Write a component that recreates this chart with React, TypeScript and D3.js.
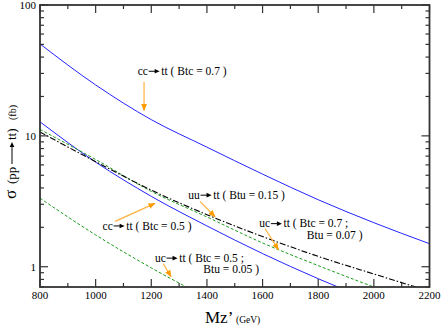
import React from 'react';
import * as d3 from 'd3';

// Z' mass points (GeV) and cross sections (fb)
const massPoints = [800, 1000, 1200, 1400, 1600, 1800, 2000, 2200];
const ccBtc07 = [50.4, 24.5, 13.3, 8.2, 5.1, 3.25, 2.17, 1.5];
const ccBtc05 = [12.8, 6.3, 3.45, 2.05, 1.26, 0.81, 0.54, null];
const ucBtc07Btu007 = [11.2, 6.6, 3.77, 2.4, 1.52, 1.02, 0.7, null];
const uuBtu015 = [10.7, 6.35, 3.85, 2.5, 1.7, 1.2, 0.88, 0.65];
const ucBtc05Btu005 = [3.34, 1.75, 0.98, 0.58, null, null, null, null];

const xMajorTicks = [800, 1000, 1200, 1400, 1600, 1800, 2000, 2200];
const yLabelTicks = [1, 10, 100];

// annotation anchors in data units: label, arrow tail, arrow tip
const notes = [
  { pre: 'cc', rest: 'tt ( Btc = 0.7 )', at: [1151, 29.2], from: [1174, 25.8], to: [1174, 15.6] },
  { pre: 'uu', rest: 'tt ( Btu = 0.15 )', at: [1333, 3.3], from: [1375, 3.16], to: [1429, 2.41] },
  { pre: 'uc', rest: 'tt ( Btc = 0.7 ;', at: [1588, 2.0], from: [1609, 1.95], to: [1657, 1.35], line2: 'Btu = 0.07 )', at2: [1759, 1.64] },
  { pre: 'cc', rest: 'tt ( Btc = 0.5 )', at: [1025, 1.92], from: [1070, 2.22], to: [1213, 3.05] },
  { pre: 'uc', rest: 'tt ( Btc = 0.5 ;', at: [1213, 1.09], from: [1243, 1.054], to: [1271, 0.84], line2: 'Btu = 0.05 )', at2: [1387, 0.9] },
];

const W = 442;
const H = 327;
const margin = { top: 5, right: 12.5, bottom: 40, left: 40 };
const font = "'Liberation Serif', 'DejaVu Serif', serif";
const orange = '#ffb13d';

// Times advance widths (em)
const glyphW: Record<string, number> = { c: 0.444, u: 0.5 };
const prefixWidth = (s: string, size: number) =>
  s.split('').reduce((a, ch) => a + (glyphW[ch] || 0.5) * size, 0);

const SmallArrow = ({ x, y, len }: { x: number; y: number; len: number }) => (
  <g>
    <line x1={x} y1={y} x2={x + len - 4} y2={y} stroke="#000" strokeWidth={1} />
    <path d={`M${x + len},${y} L${x + len - 5},${y - 2.3} L${x + len - 5},${y + 2.3} Z`} fill="#000" />
  </g>
);

export default function App() {
  const iw = W - margin.left - margin.right;
  const ih = H - margin.top - margin.bottom;
  const x = d3.scaleLinear().domain([800, 2200]).range([margin.left, margin.left + iw]);
  const y = d3.scaleLog().domain([0.7, 100]).range([margin.top + ih, margin.top]);
  const x0 = margin.left;
  const x1 = margin.left + iw;
  const y0 = margin.top + ih;
  const y1 = margin.top;

  const line = d3
    .line<[number, number | null]>()
    .defined((d) => d[1] != null)
    .x((d) => x(d[0]))
    .y((d) => y(d[1] as number))
    .curve(d3.curveMonotoneX);
  const pts = (vals: (number | null)[]) => massPoints.map((m, i) => [m, vals[i]] as [number, number | null]);

  const series = [
    { vals: ccBtc07, color: '#2424ff', dash: undefined, w: 1 },
    { vals: ccBtc05, color: '#2424ff', dash: undefined, w: 1 },
    { vals: ucBtc07Btu007, color: '#1a9a1a', dash: '3,2', w: 1 },
    { vals: uuBtu015, color: '#000', dash: '6,2,1.5,2', w: 1.1 },
    { vals: ucBtc05Btu005, color: '#1a9a1a', dash: '3,2', w: 1 },
  ];

  const xMinor = d3.range(800, 2201, 100).filter((v) => !xMajorTicks.includes(v));
  const yMinor: number[] = [];
  [0.1, 1, 10].forEach((dec) => {
    for (let k = 2; k <= 9; k++) {
      const v = k * dec;
      if (v >= 0.7 && v <= 100) yMinor.push(v);
    }
  });

  const tickColor = '#333';
  const majorLen = 8;
  const minorLen = 4;
  const fs = 11;
  const noteFs = 11.5;

  return (
    <svg width={W} height={H} style={{ position: 'absolute', left: 0, top: 0, background: '#fff' }}>
      <defs>
        <clipPath id="plot">
          <rect x={x0} y={y1} width={iw} height={ih} />
        </clipPath>
        <marker id="oarrow" viewBox="0 0 10 10" refX={9} refY={5} markerWidth={6} markerHeight={6} orient="auto">
          <path d="M0,1 L10,5 L0,9 Z" fill="#ff9c00" />
        </marker>
      </defs>

      {/* series */}
      <g clipPath="url(#plot)">
        {series.map((s, i) => (
          <path key={i} d={line(pts(s.vals)) || ''} fill="none" stroke={s.color} strokeWidth={s.w} strokeDasharray={s.dash} />
        ))}
      </g>

      {/* ticks */}
      <g stroke={tickColor} strokeWidth={1.2}>
        {xMajorTicks.map((v) => (
          <g key={'xm' + v}>
            <line x1={x(v)} x2={x(v)} y1={y0} y2={y0 - majorLen} />
            <line x1={x(v)} x2={x(v)} y1={y1} y2={y1 + majorLen} />
          </g>
        ))}
        {xMinor.map((v) => (
          <g key={'xn' + v}>
            <line x1={x(v)} x2={x(v)} y1={y0} y2={y0 - minorLen} />
            <line x1={x(v)} x2={x(v)} y1={y1} y2={y1 + minorLen} />
          </g>
        ))}
        {yLabelTicks.map((v) => (
          <g key={'ym' + v}>
            <line x1={x0} x2={x0 + majorLen} y1={y(v)} y2={y(v)} />
            <line x1={x1} x2={x1 - majorLen} y1={y(v)} y2={y(v)} />
          </g>
        ))}
        {yMinor.map((v) => (
          <g key={'yn' + v}>
            <line x1={x0} x2={x0 + minorLen} y1={y(v)} y2={y(v)} />
            <line x1={x1} x2={x1 - minorLen} y1={y(v)} y2={y(v)} />
          </g>
        ))}
      </g>
      <rect x={x0} y={y1} width={iw} height={ih} fill="none" stroke={tickColor} strokeWidth={1.8} />

      {/* tick labels */}
      <g style={{ fontFamily: font }} fontSize={fs} fill="#000">
        {xMajorTicks.map((v) => (
          <text key={'xl' + v} x={x(v)} y={y0 + 11.5} textAnchor="middle">{v}</text>
        ))}
        {yLabelTicks.map((v) => (
          <text key={'yl' + v} x={x0 - 4} y={y(v)} dy="0.35em" textAnchor="end">{v}</text>
        ))}
      </g>

      {/* axis titles */}
      <g style={{ fontFamily: font }} fill="#000">
        <text x={205} y={323} fontSize={17}>Mz’</text>
        <text x={236} y={323} fontSize={9.5}>(GeV)</text>
      </g>
      <g style={{ fontFamily: font }} fill="#000" transform="translate(16,199) rotate(-90)">
        <text x={0} y={0} fontSize={17}>σ</text>
        <text x={15} y={0} fontSize={13}>(pp</text>
        <SmallArrow x={35} y={-4} len={22} />
        <text x={59} y={0} fontSize={13}>tt)</text>
        <text x={79} y={0} fontSize={10}>(fb)</text>
      </g>

      {/* annotations */}
      <g style={{ fontFamily: font }} fontSize={noteFs} fill="#000">
        {notes.map((n, i) => {
          const lx = x(n.at[0]);
          const ly = y(n.at[1]);
          const pw = prefixWidth(n.pre, noteFs);
          return (
            <g key={'n' + i}>
              <line
                x1={x(n.from[0])}
                y1={y(n.from[1])}
                x2={x(n.to[0])}
                y2={y(n.to[1])}
                stroke={orange}
                strokeWidth={1.2}
                markerEnd="url(#oarrow)"
              />
              <text x={lx} y={ly}>{n.pre}</text>
              <SmallArrow x={lx + pw + 0.8} y={ly - 3.7} len={11} />
              <text x={lx + pw + 13.5} y={ly}>{n.rest}</text>
              {n.line2 && (
                <text x={x(n.at2![0])} y={y(n.at2![1])}>{n.line2}</text>
              )}
            </g>
          );
        })}
      </g>
    </svg>
  );
}
